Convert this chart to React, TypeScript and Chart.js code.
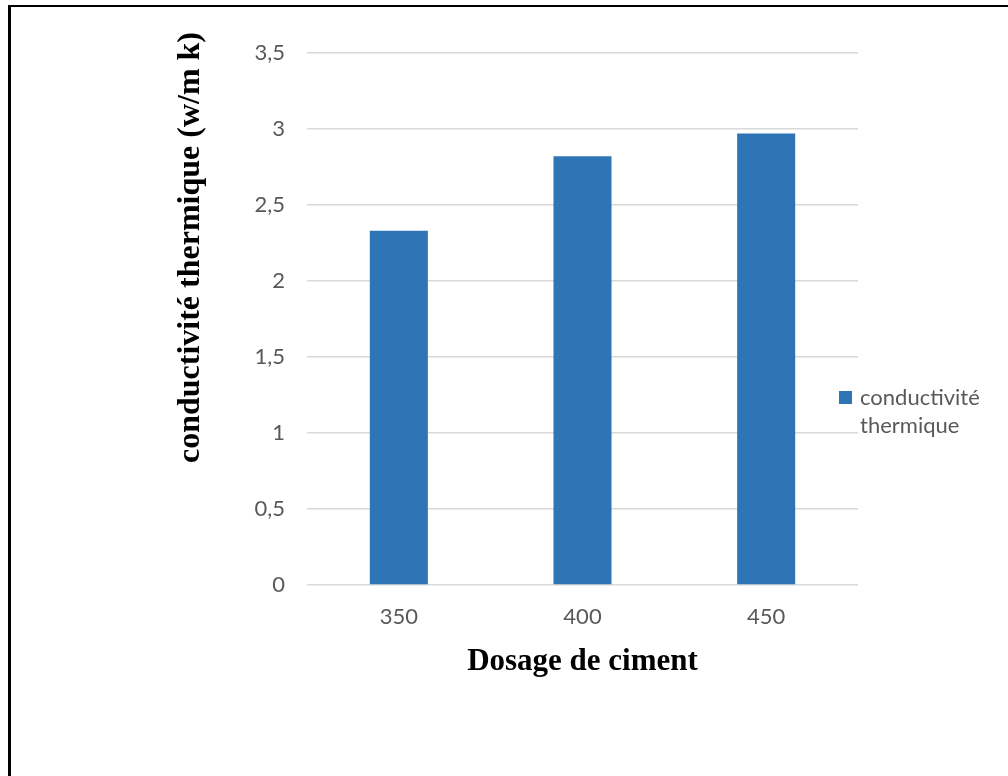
import React, { useEffect, useRef } from "react";
import { Chart, registerables } from "chart.js";

Chart.register(...registerables);

const categories = ["350", "400", "450"];
const conductivity = [2.33, 2.82, 2.97];
const seriesLabel = "conductivité thermique";
const legendLines = ["conductivité", "thermique"];
const xTitle = "Dosage de ciment";
const yTitle = "conductivité thermique (w/m k)";
const yMin = 0;
const yMax = 3.5;
const yStep = 0.5;

const BAR_COLOR = "#2e75b6";
const TICK_COLOR = "#595959";
const GRID_COLOR = "#d9d9d9";
const TICK_FONT = { family: "Lato, 'Open Sans', sans-serif", size: 22 };

const overlayPlugin = {
  id: "overlay",
  afterDraw(chart: any) {
    const { ctx, chartArea } = chart;
    ctx.save();
    // y axis title
    ctx.translate(191, 247.5);
    ctx.rotate(-Math.PI / 2);
    ctx.font = "bold 32px 'Liberation Serif', 'Times New Roman', serif";
    ctx.fillStyle = "#000";
    ctx.textAlign = "center";
    ctx.textBaseline = "middle";
    ctx.fillText(yTitle, 0, 0);
    ctx.restore();

    // legend
    ctx.save();
    const sx = chartArea.right - 19;
    const sy = 391;
    ctx.fillStyle = BAR_COLOR;
    ctx.fillRect(sx, sy, 13, 13);
    ctx.fillStyle = TICK_COLOR;
    ctx.font = "22px Lato, 'Open Sans', sans-serif";
    ctx.textAlign = "left";
    ctx.textBaseline = "middle";
    legendLines.forEach((line, i) => {
      ctx.fillText(line, sx + 21, sy + 7 + i * 28);
    });
    ctx.restore();
  },
};

export default function App() {
  const canvasRef = useRef<HTMLCanvasElement | null>(null);

  useEffect(() => {
    if (!canvasRef.current) return;
    const chart = new Chart(canvasRef.current, {
      type: "bar",
      data: {
        labels: categories,
        datasets: [
          {
            label: seriesLabel,
            data: conductivity,
            backgroundColor: BAR_COLOR,
            borderWidth: 0,
            barPercentage: 0.316,
            categoryPercentage: 1,
          },
        ],
      },
      options: {
        responsive: false,
        animation: false,
        layout: { padding: { top: 53, right: 150, bottom: 91, left: 20 } },
        plugins: {
          legend: { display: false },
          tooltip: { enabled: false },
        },
        scales: {
          x: {
            grid: { display: false, drawTicks: false },
            border: { display: false },
            ticks: { font: TICK_FONT, color: TICK_COLOR, padding: 19 },
            title: {
              display: true,
              text: xTitle,
              color: "#000",
              font: {
                family: "'Liberation Serif', 'Times New Roman', serif",
                size: 31,
                weight: "bold",
              },
              padding: { top: 0, bottom: 4 },
            },
            afterFit: (s: any) => {
              s.height = 100;
            },
          },
          y: {
            min: yMin,
            max: yMax,
            grid: { color: GRID_COLOR, lineWidth: 1.5, drawTicks: false },
            border: { display: false },
            ticks: {
              stepSize: yStep,
              font: TICK_FONT,
              color: TICK_COLOR,
              padding: 22,
              callback: (v: any) => String(v).replace(".", ","),
            },
            afterFit: (s: any) => {
              s.width = 287;
            },
          },
        },
      },
      plugins: [overlayPlugin],
    });
    return () => chart.destroy();
  }, []);

  return (
    <div
      style={{
        position: "fixed",
        left: 0,
        top: 0,
        width: 1008,
        height: 776,
        overflow: "hidden",
        background: "#fff",
      }}
    >
      <div
        style={{
          position: "absolute",
          left: 8,
          top: 5,
          width: 1100,
          height: 900,
          borderLeft: "3px solid #000",
          borderTop: "2px solid #000",
          boxSizing: "border-box",
        }}
      />
      <canvas
        ref={canvasRef}
        width={1008}
        height={776}
        style={{ position: "absolute", left: 0, top: 0 }}
      />
    </div>
  );
}
